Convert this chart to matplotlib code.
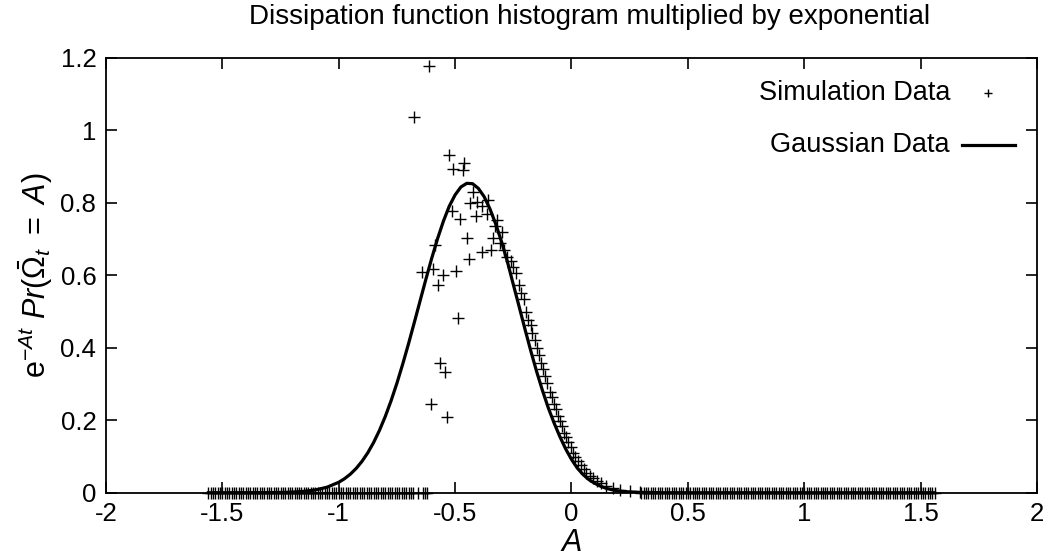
import numpy as np
import matplotlib
matplotlib.use("Agg")
import matplotlib.pyplot as plt

plt.rcParams['font.family'] = ['Liberation Sans', 'DejaVu Sans']
plt.rcParams['mathtext.fontset'] = 'custom'
plt.rcParams['mathtext.rm'] = 'Liberation Sans'
plt.rcParams['mathtext.it'] = 'Liberation Sans:italic'
plt.rcParams['axes.unicode_minus'] = False

# scattered histogram points around the peak
peak_x = [-0.677, -0.611, -0.527, -0.508, -0.468, -0.461, -0.422, -0.434, -0.405,
          -0.386, -0.358, -0.515, -0.479, -0.412, -0.365, -0.319, -0.329, -0.298,
          -0.451, -0.339, -0.587, -0.346, -0.386, -0.441, -0.594, -0.644, -0.554,
          -0.497, -0.572, -0.489, -0.564, -0.544, -0.602, -0.535]
peak_y = [1.037, 1.177, 0.931, 0.893, 0.891, 0.910, 0.829, 0.799, 0.802,
          0.792, 0.807, 0.779, 0.756, 0.764, 0.769, 0.753, 0.735, 0.719,
          0.703, 0.703, 0.684, 0.670, 0.665, 0.646, 0.617, 0.608, 0.600,
          0.612, 0.572, 0.482, 0.358, 0.333, 0.246, 0.209]

# right-hand descending tail
tail_x = [-0.308, -0.291, -0.275, -0.261, -0.251, -0.240, -0.225, -0.215, -0.205,
          -0.197, -0.186, -0.176, -0.168, -0.158, -0.149, -0.139, -0.129, -0.122,
          -0.112, -0.105, -0.093, -0.085, -0.076, -0.067, -0.057, -0.050, -0.042,
          -0.033, -0.024, -0.015, -0.004, 0.007, 0.017, 0.028, 0.040, 0.053,
          0.064, 0.079, 0.093, 0.110, 0.129, 0.150, 0.179, 0.207, 0.250, 0.293]
tail_y = [0.689, 0.670, 0.652, 0.640, 0.624, 0.606, 0.574, 0.551, 0.534,
          0.500, 0.477, 0.463, 0.442, 0.422, 0.399, 0.380, 0.357, 0.341,
          0.323, 0.304, 0.279, 0.264, 0.245, 0.230, 0.213, 0.199, 0.184,
          0.166, 0.155, 0.140, 0.125, 0.110, 0.099, 0.088, 0.077, 0.065,
          0.055, 0.047, 0.040, 0.033, 0.026, 0.019, 0.012, 0.007, 0.004, 0.001]

# empty bins drawn on the baseline
bin_width = 0.01
zero_left = (-1.56, -0.62)
zero_gaps = [-0.67, -0.65]
zero_right = (0.30, 1.56)

# gaussian curve
gauss_x = [-1.56, -1.3, -1.25, -1.2, -1.15, -1.1, -1.05, -1.0, -0.975, -0.95, -0.925,
           -0.9, -0.875, -0.85, -0.825, -0.8, -0.775, -0.75, -0.725, -0.7, -0.675,
           -0.65, -0.625, -0.6, -0.575, -0.55, -0.525, -0.5, -0.475, -0.45, -0.425,
           -0.4, -0.375, -0.35, -0.325, -0.3, -0.275, -0.25, -0.225, -0.2, -0.175,
           -0.15, -0.125, -0.1, -0.075, -0.05, -0.025, 0.0, 0.025, 0.05, 0.075,
           0.1, 0.125, 0.15, 0.175, 0.2, 0.25, 0.3, 0.4, 1.56]
gauss_y = [0.0, 0.0003, 0.0007, 0.0017, 0.0037, 0.0077, 0.0153, 0.0288, 0.0387, 0.0513, 0.0671,
           0.0867, 0.1104, 0.1388, 0.1721, 0.2105, 0.254, 0.3023, 0.3552, 0.4115, 0.4705,
           0.5306, 0.5905, 0.6482, 0.702, 0.75, 0.791, 0.822, 0.844, 0.854, 0.853,
           0.84, 0.817, 0.783, 0.741, 0.692, 0.637, 0.575, 0.514, 0.452, 0.392,
           0.335, 0.283, 0.235, 0.193, 0.155, 0.121, 0.092, 0.068, 0.05, 0.036,
           0.026, 0.018, 0.012, 0.008, 0.005, 0.002, 0.001, 0.0, 0.0]

xticks = [-2, -1.5, -1, -0.5, 0, 0.5, 1, 1.5, 2]
xticklabels = ["-2", "-1.5", "-1", "-0.5", "0", "0.5", "1", "1.5", "2"]
yticks = [0, 0.2, 0.4, 0.6, 0.8, 1.0, 1.2]
yticklabels = ["0", "0.2", "0.4", "0.6", "0.8", "1", "1.2"]

zl = np.round(np.arange(zero_left[0], zero_left[1] + bin_width / 2, bin_width), 2)
zl = np.array([v for v in zl if v not in zero_gaps])
zr = np.round(np.arange(zero_right[0], zero_right[1] + bin_width / 2, bin_width), 2)
sim_x = np.concatenate([zl, peak_x, tail_x, zr])
sim_y = np.concatenate([np.zeros(len(zl)), peak_y, tail_y, np.zeros(len(zr))])

fig = plt.figure(figsize=(10.64, 5.57), dpi=100)
ax = fig.add_axes([0.0996, 0.1154, 0.8750, 0.7805])

ax.plot(gauss_x, gauss_y, color='black', lw=2.3, zorder=2)
ax.plot(sim_x, sim_y, ls='none', marker='+', ms=8, mew=1.0, color='black',
        zorder=3, clip_on=False)

ax.set_xlim(-2, 2)
ax.set_ylim(0, 1.2)
ax.set_xticks(xticks)
ax.set_xticklabels(xticklabels)
ax.set_yticks(yticks)
ax.set_yticklabels(yticklabels)
ax.tick_params(direction='in', length=8, width=1.2, labelsize=18.5, pad=7,
               top=True, right=True)
for s in ax.spines.values():
    s.set_linewidth(1.3)

fig.text(0.5545, 0.969, "Dissipation function histogram multiplied by exponential",
         ha='center', va='center', fontsize=20)
ax.set_xlabel(r"$A$", fontsize=22, labelpad=1)
ax.set_ylabel(r"$\mathrm{e}^{-At}\ Pr(\bar{\mathrm{\Omega}}_t\ =\ A)$", fontsize=22, labelpad=4)

# gnuplot-style key in the upper right
ax.text(0.9066, 0.9195, "Simulation Data", transform=ax.transAxes,
        ha='right', va='center', fontsize=19.5)
ax.plot([0.947], [0.9195], transform=ax.transAxes, marker='+', ms=6, mew=1.0,
        color='black', ls='none', clip_on=False)
ax.text(0.9066, 0.800, "Gaussian Data", transform=ax.transAxes,
        ha='right', va='center', fontsize=19.5)
ax.plot([0.919, 0.976], [0.800, 0.800], transform=ax.transAxes, color='black',
        lw=2.3, clip_on=False)

fig.savefig("out.png", dpi=100)
